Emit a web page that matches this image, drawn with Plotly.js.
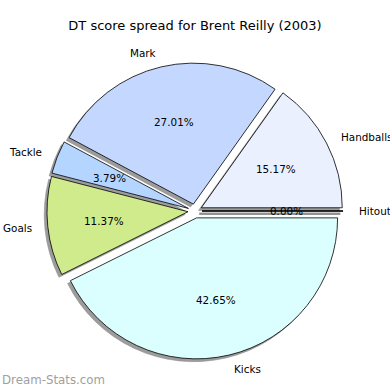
<!DOCTYPE html>
<html><head><meta charset="utf-8">
<script src="https://cdn.plot.ly/plotly-3.0.1.min.js"></script>
<style>html,body{margin:0;padding:0;background:#fff}#chart{width:390px;height:390px}</style>
</head><body><div id="chart"></div>
<script>
// DT scores for Brent Reilly (2003)
const labels = ['Handballs', 'Mark', 'Tackle', 'Goals', 'Kicks', 'Hitout'];
const scores = [160, 285, 40, 120, 450, 0];
const colors = ['#ebf0ff', '#c4d8ff', '#b3d5ff', '#d0eb8c', '#dbffff', '#ffffff'];
const titleText = 'DT score spread for Brent Reilly (2003)';

// layout constants (pixels)
const W = 390, H = 390;
const CX = 195, CY = 211, R = 141, PULL = 0.05;
const SHX = -2.8, SHY = 2.8;

const total = scores.reduce((a, b) => a + b, 0);
// first slice starts at 3 o'clock and runs counterclockwise
const ROT = 90 - 360 * scores[0] / total;

const half = R * (1 + PULL);
function dom(cx, cy) {
  return { x: [(cx - half) / W, (cx + half) / W], y: [(H - cy - half) / H, (H - cy + half) / H] };
}
const pulls = labels.map(() => PULL);

const shadow = {
  type: 'pie', labels: labels, values: scores, sort: false,
  direction: 'counterclockwise', rotation: ROT, pull: pulls,
  marker: { colors: labels.map(() => '#9c9c9c'), line: { color: '#8a8a8a', width: 0.5 } },
  textinfo: 'none', hoverinfo: 'skip', showlegend: false,
  domain: dom(CX + SHX, CY + SHY)
};
const main = {
  type: 'pie', labels: labels, values: scores, sort: false,
  direction: 'counterclockwise', rotation: ROT, pull: pulls,
  marker: { colors: colors, line: { color: '#000', width: 0.8 } },
  textinfo: 'none', hoverinfo: 'skip', showlegend: false,
  domain: dom(CX, CY)
};

// text annotations placed like matplotlib (pct at 0.6r, labels at 1.1r)
const annotations = [];
const shapes = [];
let cum = 0;
const font = { family: 'DejaVu Sans', size: 10.4, color: '#000' };
scores.forEach((v, i) => {
  const frac = v / total;
  const th = 2 * Math.PI * (cum + frac / 2);
  cum += frac;
  const c = Math.cos(th), s = Math.sin(th);
  const pcx = CX + PULL * R * c, pcy = CY - PULL * R * s;
  const tx = pcx + 0.6 * R * c, ty = pcy - 0.6 * R * s;
  annotations.push({ x: tx / W, y: 1 - ty / H, xref: 'paper', yref: 'paper', showarrow: false,
    text: (frac * 100).toFixed(2) + '%', font: font, xanchor: 'center', yanchor: 'middle' });
  const lx = pcx + 1.1 * R * c, ly = pcy - 1.1 * R * s;
  annotations.push({ x: lx / W, y: 1 - ly / H, xref: 'paper', yref: 'paper', showarrow: false,
    text: labels[i], font: font, xanchor: c > 0 ? 'left' : 'right', yanchor: 'middle' });
  if (v === 0) {
    const ex = pcx + R * c, ey = pcy - R * s;
    shapes.push({ type: 'line', xref: 'paper', yref: 'paper', layer: 'below',
      x0: (pcx + SHX) / W, y0: 1 - (pcy + SHY) / H, x1: (ex + SHX) / W, y1: 1 - (ey + SHY) / H,
      line: { color: '#9c9c9c', width: 2.5 } });
    shapes.push({ type: 'line', xref: 'paper', yref: 'paper', layer: 'above',
      x0: pcx / W, y0: 1 - pcy / H, x1: ex / W, y1: 1 - ey / H,
      line: { color: '#000', width: 1.2 } });
  }
});
annotations.push({ x: 0, y: 1 - 380 / H, xref: 'paper', yref: 'paper', showarrow: false,
  text: 'Dream-Stats.com', font: { family: 'DejaVu Sans', size: 11.8, color: '#a0a0a0' },
  xanchor: 'left', yanchor: 'middle' });

const layout = {
  width: W, height: H, margin: { l: 0, r: 0, t: 0, b: 0 },
  paper_bgcolor: '#fff', plot_bgcolor: '#fff',
  title: { text: titleText, font: { family: 'DejaVu Sans', size: 13, color: '#000' },
    x: 0.5, xanchor: 'center', y: 1 - 25 / H, yanchor: 'middle', yref: 'container' },
  annotations: annotations, shapes: shapes, showlegend: false
};
Plotly.newPlot('chart', [shadow, main], layout, { staticPlot: true, displayModeBar: false });
</script></body></html>
